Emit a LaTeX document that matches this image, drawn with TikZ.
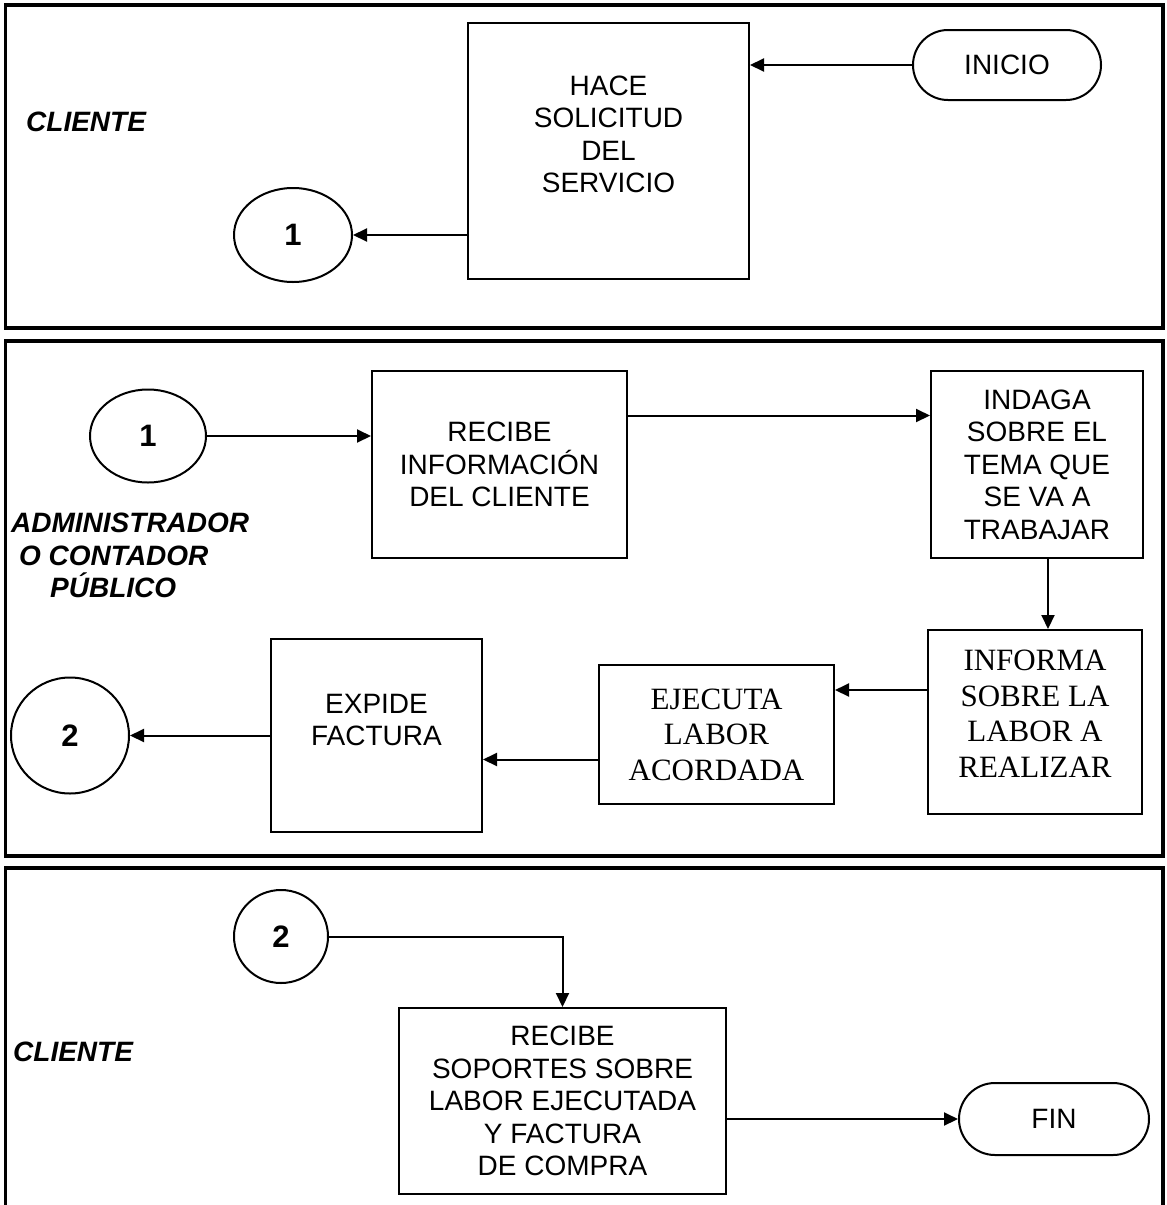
\documentclass[tikz,border=0pt]{standalone}
\usepackage{fontspec}
\setmainfont{Liberation Sans}
\newfontfamily\timesfont{Liberation Serif}
\usetikzlibrary{shapes.geometric,arrows.meta}
\begin{document}
\begin{tikzpicture}[x=1pt,y=-1pt,
  lane/.style={line width=3.5pt},
  box/.style={draw,line width=2pt,rectangle,inner sep=0pt},
  txt/.style={align=center,font=\fontsize{28}{32.5}\selectfont,inner sep=0pt},
  stxt/.style={align=center,font=\timesfont\fontsize{31}{35.5}\selectfont,inner sep=0pt},
  conn/.style={draw,line width=2pt,ellipse,inner sep=0pt,font=\bfseries\fontsize{31}{34}\selectfont},
  term/.style={draw,line width=2pt,rectangle,rounded corners=35pt,inner sep=0pt,font=\fontsize{28}{32}\selectfont},
  arr/.style={line width=2pt,-{Triangle[length=14pt,width=13pt]}},
  role/.style={font=\bfseries\itshape\fontsize{28}{32.5}\selectfont,inner sep=0pt,anchor=west,align=left}]
\useasboundingbox (0,0) rectangle (1167,1205);
\fill[white] (0,0) rectangle (1167,1205);

% lanes
\draw[lane] (5.5,5) rectangle (1163,328);
\draw[lane] (5.5,341) rectangle (1163,856);
\draw[lane] (5.5,1212) -- (5.5,868) -- (1163,868) -- (1163,1212);

% ---- lane 1
\node[role] (r1) at (26,122) {CLIENTE};
\node[term,minimum width=188pt,minimum height=70pt] (inicio) at (1007,65) {INICIO};
\node[box,minimum width=281pt,minimum height=256pt] (hace) at (608.5,151) {};
\node[txt] (hacet) at (608.5,134.5) {HACE\\SOLICITUD\\DEL\\SERVICIO};
\node[conn,minimum width=118pt,minimum height=94pt] (c1a) at (293,235) {1};

\draw[arr] (inicio.west) -- (inicio.west -| hace.east);
\draw[arr] (c1a.east -| hace.west) -- (c1a.east);

% ---- lane 2
\node[role] (r2) at (11,555.5) {ADMINISTRADOR\\\hspace*{8pt}O CONTADOR\\\hspace*{39pt}PÚBLICO};
\node[conn,minimum width=116pt,minimum height=93pt] (c1b) at (148,436) {1};
\node[box,txt,minimum width=255pt,minimum height=187pt] (recibe) at (499.5,464.5) {RECIBE\\INFORMACIÓN\\DEL CLIENTE};
\node[box,txt,minimum width=212pt,minimum height=187pt] (indaga) at (1037,464.5) {INDAGA\\SOBRE EL\\TEMA QUE\\SE VA A\\TRABAJAR};
\node[box,minimum width=214pt,minimum height=184pt] (informa) at (1035,722) {};
\node[stxt] (informat) at (1035,713.5) {INFORMA\\SOBRE LA\\LABOR A\\REALIZAR};
\node[box,stxt,minimum width=235pt,minimum height=139pt] (ejecuta) at (716.5,734.5) {EJECUTA\\LABOR\\ACORDADA};
\node[box,minimum width=211pt,minimum height=193pt] (expide) at (376.5,735.5) {};
\node[txt] (expidet) at (376.5,720) {EXPIDE\\FACTURA};
\node[conn,minimum width=118pt,minimum height=116pt] (c2a) at (70,735.5) {2};

\draw[arr] (c1b.east) -- (c1b.east -| recibe.west);
\draw[arr] ([yshift=49pt]recibe.east) -- ([yshift=49pt]recibe.east -| indaga.west);
\draw[arr] ([xshift=11pt]indaga.south) -- ([xshift=11pt]indaga.south |- informa.north);
\draw[arr] ([yshift=32pt]informa.west) -- ([yshift=32pt]informa.west -| ejecuta.east);
\draw[arr] ([yshift=-25pt]ejecuta.west) -- ([yshift=-25pt]ejecuta.west -| expide.east);
\draw[arr] (expide.west) -- (c2a.east);

% ---- lane 3
\node[role] (r3) at (13,1052) {CLIENTE};
\node[conn,minimum width=94pt,minimum height=93pt] (c2b) at (281,936.5) {2};
\node[box,txt,minimum width=327pt,minimum height=186pt] (recibe2) at (562.5,1101) {RECIBE\\SOPORTES SOBRE\\LABOR EJECUTADA\\Y FACTURA\\DE COMPRA};
\node[term,minimum width=190pt,minimum height=72pt,rounded corners=36pt] (fin) at (1054,1119) {FIN};

\draw[arr] (c2b.east) -| (recibe2.north);
\draw[arr] ([yshift=-18pt]recibe2.east) -- ([yshift=-18pt]recibe2.east -| fin.west);
\end{tikzpicture}
\end{document}
